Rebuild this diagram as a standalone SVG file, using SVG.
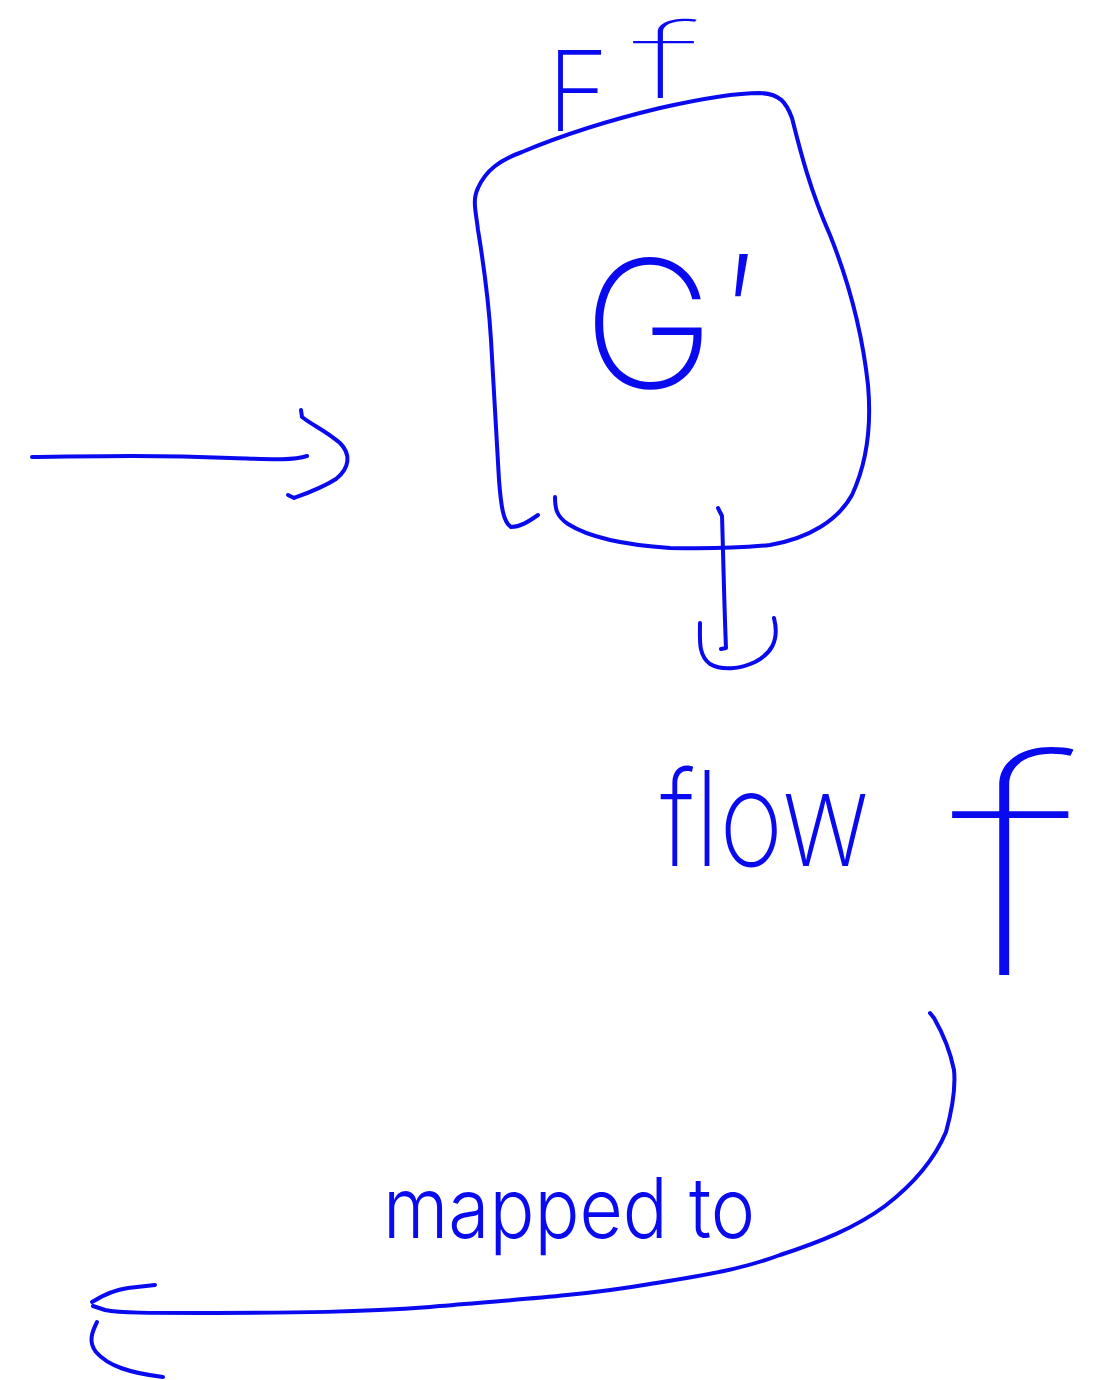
<svg xmlns="http://www.w3.org/2000/svg" width="1095" height="1380" viewBox="0 0 1095 1380">
  <style>
    .ink { fill: none; stroke: #0a0aee; stroke-width: 4; stroke-linecap: round; stroke-linejoin: round; }
    .hand { fill: #0a0aee; font-family: "Inter", "Roboto", "Lato", "Liberation Sans", sans-serif; font-weight: 200; }
    .hand.small { font-weight: 300; }
    .hand.big { font-weight: 100; }
  </style>
  <rect width="1095" height="1380" fill="#ffffff"/>

  <!-- node: the G′ block with its Ff label -->
  <g id="node-gprime">
    <path class="ink" d="M538,515 C528,522 520,527 511,527 C503,522 501,505 499,480 C497,440 494,390 491,340 C488,290 482,255 478,230 C476,212 472,200 478,188 C486,170 500,160 522,152 C560,136 610,120 660,108 C700,99 735,93 760,93 C780,94 786,102 792,118 C800,150 810,190 830,235 C848,280 862,330 868,385 C872,430 866,465 852,495 C838,520 810,538 770,545 C740,548 710,549 670,548 C625,545 590,538 568,524 C556,516 555,508 555,497"/>
    <text class="hand" x="583" y="388" font-size="178">G<tspan x="726" y="378" font-size="170">′</tspan></text>
    <text class="hand" x="547" y="131" font-size="112" textLength="62" lengthAdjust="spacingAndGlyphs">F</text>
    <text class="hand big" x="632" y="98" font-size="104" textLength="68" lengthAdjust="spacingAndGlyphs">f</text>
  </g>

  <!-- connectors -->
  <g id="connectors">
    <!-- incoming arrow from the left -->
    <g id="edge-in">
      <path class="ink" d="M32,457 C100,456 160,455 230,458 C265,459 292,461 307,456"/>
      <path class="ink" d="M301,410 L302,417 C312,425 325,430 340,443 C351,454 350,468 336,479 C322,488 305,494 294,498 L288,495"/>
    </g>
    <!-- outgoing arrow below the block -->
    <g id="edge-out">
      <path class="ink" d="M718,508 L722,516 C723,545 724,600 726,648 L721,649"/>
      <path class="ink" d="M700,623 C700,640 698,655 710,664 C722,671 740,669 755,662 C770,654 780,642 774,618"/>
    </g>
    <!-- curved arrow back to the left -->
    <g id="edge-map">
      <path class="ink" d="M930,1013 L934,1018 C942,1032 950,1050 954,1070 C956,1090 952,1110 946,1132 C935,1158 915,1183 885,1206 C855,1228 820,1242 780,1255 C740,1270 700,1276 650,1284 C580,1296 510,1300 430,1307 C360,1312 300,1313 200,1313 C150,1313 120,1313 105,1310 L93,1306"/>
      <path class="ink" d="M92,1302 C100,1297 112,1290 128,1288 L155,1285"/>
      <path class="ink" d="M97,1322 C92,1332 88,1342 96,1352 C108,1366 130,1373 163,1377"/>
    </g>
  </g>

  <!-- labels -->
  <g id="label-flow">
    <text class="hand" x="660" y="866" font-size="132" textLength="210" lengthAdjust="spacingAndGlyphs">flow</text>
    <text class="hand big" x="950" y="975" font-size="300" textLength="130" lengthAdjust="spacingAndGlyphs">f</text>
  </g>
  <g id="label-mapped">
    <text class="hand small" x="383" y="1238" font-size="84" textLength="372" lengthAdjust="spacingAndGlyphs">mapped to</text>
  </g>
</svg>
